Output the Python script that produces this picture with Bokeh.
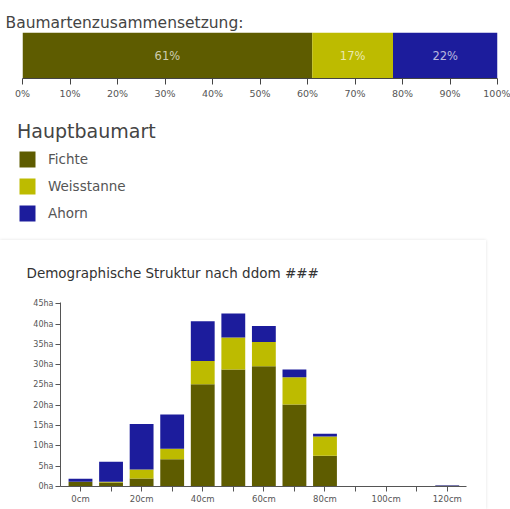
from bokeh.plotting import figure
from bokeh.models import (Range1d, Legend, LegendItem, FixedTicker, ColumnDataSource, LinearAxis)
from bokeh.layouts import column, row
from bokeh.embed import file_html
from bokeh.resources import INLINE
from bokeh.core.properties import value
import numpy as np

# ---- data ----
species = ["Fichte", "Weisstanne", "Ahorn"]
colors = ["#5e5c00", "#bdbb00", "#1c1c9c"]
share_pct = [61, 17, 22]

categories = ["0cm", "10cm", "20cm", "30cm", "40cm", "50cm", "60cm",
              "70cm", "80cm", "90cm", "100cm", "110cm", "120cm"]
fichte = [1.1, 1.0, 2.0, 6.7, 25.2, 28.8, 29.6, 20.2, 7.6, 0, 0, 0, 0.2]
weisstanne = [0.1, 0.2, 2.2, 2.6, 5.7, 7.9, 6.0, 6.7, 4.7, 0, 0, 0, 0.0]
ahorn = [0.7, 4.9, 11.2, 8.4, 9.8, 5.9, 3.9, 1.9, 0.7, 0, 0, 0, 0.1]
y_ticks = [0, 5, 10, 15, 20, 25, 30, 35, 40, 45]
pct_ticks = [0, 10, 20, 30, 40, 50, 60, 70, 80, 90, 100]

FONT = "DejaVu Sans"

# ---- top stacked bar ----
p1 = figure(width=510, height=110, x_range=Range1d(0, 100), y_range=Range1d(-0.5, 0.5),
            output_backend="svg", toolbar_location=None,
            min_border_left=22, min_border_right=13, min_border_top=32, min_border_bottom=32)
p1.title.text = "Baumartenzusammensetzung:"
p1.title.align = "left"
p1.title.offset = -17
p1.title.text_font = FONT
p1.title.text_font_size = "15.5px"
p1.title.text_font_style = "normal"
p1.title.text_color = "#444444"
p1.title.standoff = 1

src1 = ColumnDataSource(dict(y=[0], **{s: [v] for s, v in zip(species, share_pct)}))
p1.hbar_stack(species, y="y", height=1.0, color=colors, source=src1, line_width=0)

cum = np.cumsum(share_pct)
mids = list(cum - np.array(share_pct) / 2.0)
p1.text(x=mids, y=[0] * 3, text=[f"{v}%" for v in share_pct],
        text_align="center", text_baseline="middle", text_color="white", text_alpha=0.7,
        text_font=value(FONT), text_font_size="11.5px")

p1.yaxis.visible = False
p1.grid.visible = False
p1.outline_line_color = None
p1.xaxis.ticker = FixedTicker(ticks=pct_ticks)
p1.xaxis.major_label_overrides = {t: f"{t}%" for t in pct_ticks}
p1.xaxis.major_label_text_font = FONT
p1.xaxis.major_label_text_font_size = "9.5px"
p1.xaxis.major_label_text_color = "#555555"
p1.xaxis.major_tick_in = 0
p1.xaxis.major_tick_out = 6
p1.xaxis.minor_tick_line_color = None
p1.xaxis.axis_line_color = "#444444"
p1.xaxis.major_tick_line_color = "#444444"
p1.xaxis.major_label_standoff = 3

# ---- legend panel ----
pl = figure(width=510, height=130, x_range=Range1d(0, 1), y_range=Range1d(0, 1),
            output_backend="svg", toolbar_location=None,
            min_border_left=17, min_border_top=10, min_border_right=0, min_border_bottom=0)
pl.axis.visible = False
pl.grid.visible = False
pl.outline_line_color = None
lrs = pl.hbar_stack(species, y="y", height=1.0, color=colors, source=src1, line_width=0)
for r in lrs:
    r.visible = False
legend = Legend(items=[LegendItem(label=s, renderers=[r]) for s, r in zip(species, lrs)],
                title="Hauptbaumart", location="top_left", orientation="vertical",
                title_text_font=FONT, title_text_font_size="19px", title_text_font_style="normal",
                title_text_color="#444444", title_standoff=7,
                label_text_font=FONT, label_text_font_size="13.5px", label_text_color="#555555",
                glyph_width=20, glyph_height=20, label_height=20, spacing=7,
                label_standoff=11, padding=0, margin=0,
                inactive_fill_alpha=0.0,
                border_line_color=None, background_fill_alpha=0)
pl.add_layout(legend)

# ---- bottom stacked columns ----
x = list(range(len(categories)))
src2 = ColumnDataSource(dict(x=x, Fichte=fichte, Weisstanne=weisstanne, Ahorn=ahorn))

p2 = figure(width=486, height=269, x_range=Range1d(-0.654, 12.63), y_range=Range1d(0, 45.3),
            output_backend="svg", toolbar_location=None,
            min_border_left=60, min_border_right=20, min_border_top=0, min_border_bottom=23,
            styles={"box-shadow": "0 0 3px rgba(0,0,0,0.12)"})
p2.title.text = "Demographische Struktur nach ddom ###"
p2.title.align = "left"
p2.title.offset = -34
p2.title.text_font = FONT
p2.title.text_font_size = "13.5px"
p2.title.text_font_style = "normal"
p2.title.text_color = "#333333"
p2.title.standoff = 44

# empty spacer between title and plot area (no ticks, no labels)
spacer = LinearAxis(ticker=FixedTicker(ticks=[]), axis_line_color=None,
                    major_tick_line_color=None, minor_tick_line_color=None,
                    major_tick_in=0, major_tick_out=8, minor_tick_out=0)
p2.add_layout(spacer, "above")

p2.vbar_stack(species, x="x", width=0.78, color=colors, source=src2, line_width=0)

p2.grid.visible = False
p2.outline_line_color = None
xaxis2 = p2.below[0]
yaxis2 = p2.left[0]
yaxis2.ticker = FixedTicker(ticks=y_ticks)
yaxis2.major_label_overrides = {t: f"{t}ha" for t in y_ticks}
labeled = [i for i in x if i % 2 == 0]
unlabeled = [i for i in x if i % 2 == 1]
xaxis2.ticker = FixedTicker(ticks=labeled, minor_ticks=unlabeled)
xaxis2.major_label_overrides = {i: categories[i] for i in labeled}
for ax in (xaxis2, yaxis2):
    ax.major_label_text_font = FONT
    ax.major_label_text_font_size = "8px"
    ax.major_label_text_color = "#555555"
    ax.major_tick_in = 0
    ax.major_tick_out = 5
    ax.minor_tick_in = 0
    ax.axis_line_color = "#555555"
    ax.major_tick_line_color = "#555555"
    ax.major_label_standoff = 2
yaxis2.minor_tick_line_color = None
xaxis2.minor_tick_out = 5
xaxis2.minor_tick_line_color = "#555555"
xaxis2.major_label_text_font_size = "8.5px"

layout = column(row(p1), row(pl), row(p2), spacing=0)
open("out.html", "w").write(file_html(layout, INLINE))
